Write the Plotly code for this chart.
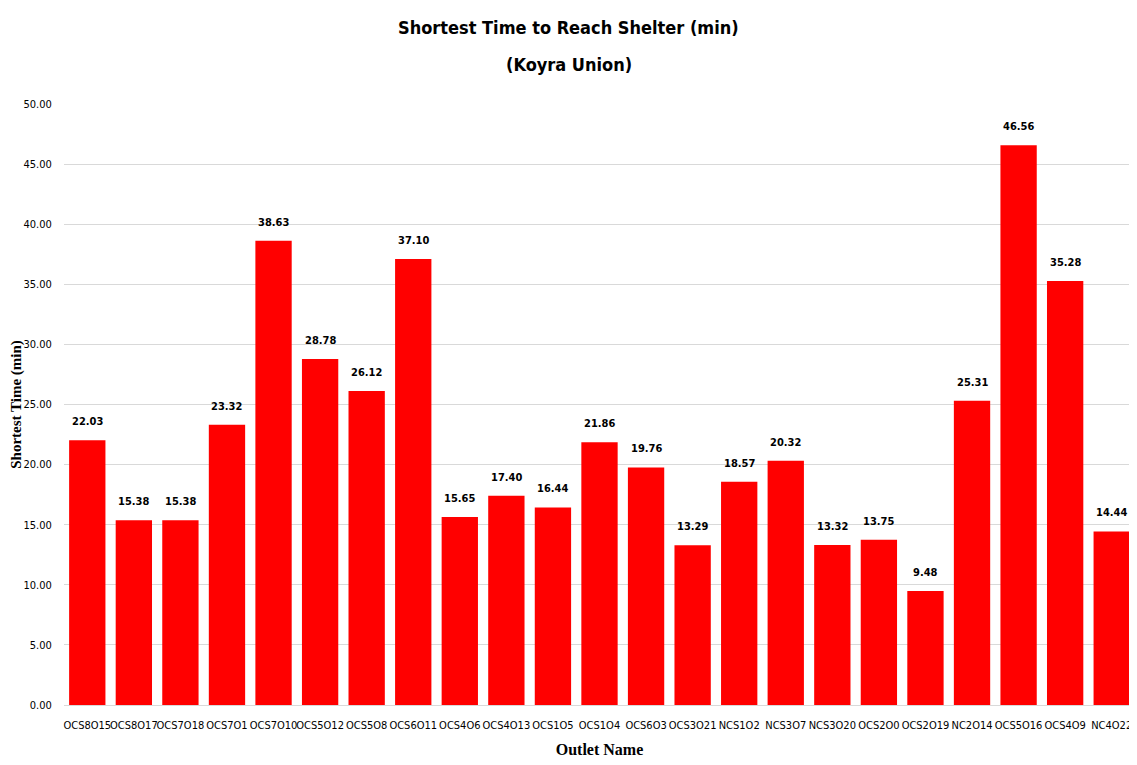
import plotly.graph_objects as go

outlets = ["OCS8O15", "OCS8O17", "OCS7O18", "OCS7O1", "OCS7O10", "OCS5O12", "OCS5O8",
           "OCS6O11", "OCS4O6", "OCS4O13", "OCS1O5", "OCS1O4", "OCS6O3", "OCS3O21",
           "NCS1O2", "NCS3O7", "NCS3O20", "OCS2O0", "OCS2O19", "NC2O14", "OCS5O16",
           "OCS4O9", "NC4O22"]
times = [22.03, 15.38, 15.38, 23.32, 38.63, 28.78, 26.12, 37.10, 15.65, 17.40, 16.44,
         21.86, 19.76, 13.29, 18.57, 20.32, 13.32, 13.75, 9.48, 25.31, 46.56, 35.28, 14.44]
y_ticks = [0, 5, 10, 15, 20, 25, 30, 35, 40, 45, 50]
title_lines = ["Shortest Time to Reach Shelter (min)", "(Koyra Union)"]

narrow = "DejaVu Sans Condensed, Liberation Sans Narrow, sans-serif"
serif = "Liberation Serif, Times New Roman, serif"

fig = go.Figure(go.Bar(
    x=outlets, y=times,
    marker=dict(color="#FF0000", line=dict(width=0)),
    hoverinfo="x+y",
))

annotations = []
for cat, v in zip(outlets, times):
    annotations.append(dict(
        x=cat, y=v, xref="x", yref="y", text=f"<b>{v:.2f}</b>",
        showarrow=False, yanchor="bottom", yshift=10,
        font=dict(family=narrow, size=11, color="#000000"),
    ))
for i, line in enumerate(title_lines):
    annotations.append(dict(
        x=0.4715, xref="paper", y=[1.128, 1.0665][i], yref="paper",
        text=f"<b>{line}</b>", showarrow=False, xanchor="center", yanchor="middle",
        font=dict(family=narrow, size=18, color="#000000"),
    ))

# the page body has an 8px margin, so the figure is sized to fit inside the window
fig.update_layout(
    width=1129, height=757,
    paper_bgcolor="white", plot_bgcolor="white",
    margin=dict(l=56, r=2, t=96, b=60),
    bargap=0.22,
    showlegend=False,
    annotations=annotations,
    xaxis=dict(
        automargin=False,
        tickfont=dict(family=narrow, size=11, color="#000000"),
        tickangle=0,
        showline=True, linecolor="#D9D9D9", linewidth=1,
        ticks="outside", ticklen=10, tickcolor="rgba(0,0,0,0)", showgrid=False,
        title=dict(text="<b>Outlet Name</b>", standoff=12,
                   font=dict(family=serif, size=16, color="#000000")),
    ),
    yaxis=dict(
        automargin=False,
        range=[0, 50], tickvals=y_ticks,
        ticktext=[f"{v:.2f}" for v in y_ticks],
        tickfont=dict(family=narrow, size=11, color="#000000"),
        showgrid=True, gridcolor="#D9D9D9", gridwidth=1,
        zeroline=False, showline=False,
        ticks="outside", ticklen=9, tickcolor="rgba(0,0,0,0)",
        title=dict(text="<b>Shortest Time (min)</b>", standoff=10,
                   font=dict(family=serif, size=15, color="#000000")),
    ),
)

fig.write_html("out.html")
